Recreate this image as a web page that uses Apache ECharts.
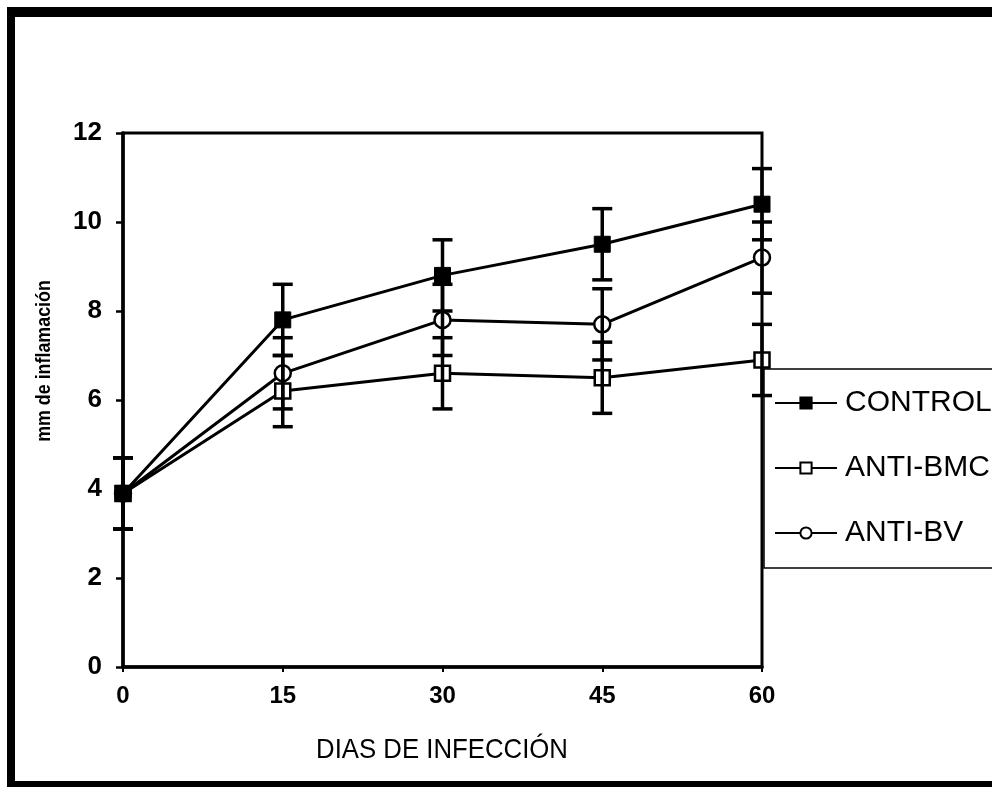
<!DOCTYPE html>
<html>
<head>
<meta charset="utf-8">
<script src="https://cdn.jsdelivr.net/npm/echarts@6/dist/echarts.min.js"></script>
<style>
  html, body { margin: 0; padding: 0; background: #fff; }
  #chart { width: 992px; height: 787px; }
</style>
</head>
<body>
<div id="chart"></div>
<script>
// Days after infection (x axis)
var days = [0, 15, 30, 45, 60];
var xTicks = [0, 15, 30, 45, 60];
var yTicks = [0, 2, 4, 6, 8, 10, 12];

// Mean inflammation (mm) per group
var controlMean = [3.9, 7.8, 8.8, 9.5, 10.4];
var antiBmcMean = [3.9, 6.2, 6.6, 6.5, 6.9];
var antiBvMean  = [3.9, 6.6, 7.8, 7.7, 9.2];

// Error (+/-) per group
var controlErr = [0.8, 0.8, 0.8, 0.8, 0.8];
var antiBmcErr = [0.8, 0.8, 0.8, 0.8, 0.8];
var antiBvErr  = [0.8, 0.8, 0.8, 0.8, 0.8];

var seriesNames = ['CONTROL', 'ANTI-BMC', 'ANTI-BV'];

var FONT = '"Liberation Sans", Arial, Helvetica, sans-serif';

function pairs(xs, ys) {
  return xs.map(function (x, i) { return [x, ys[i]]; });
}
function errRows(xs, ys, es) {
  return xs.map(function (x, i) { return [x, ys[i] - es[i], ys[i] + es[i]]; });
}

function errorBarSeries(name, rows) {
  return {
    name: name + ' error',
    type: 'custom',
    z: 5,
    silent: true,
    encode: { x: 0, y: [1, 2] },
    data: rows,
    renderItem: function (params, api) {
      var x = api.value(0);
      var top = api.coord([x, api.value(2)]);
      var bot = api.coord([x, api.value(1)]);
      var hw = 10;
      var st = { stroke: '#000', lineWidth: 3.5 };
      return {
        type: 'group',
        children: [
          { type: 'line', shape: { x1: top[0], y1: top[1], x2: bot[0], y2: bot[1] }, style: st },
          { type: 'line', shape: { x1: top[0] - hw, y1: top[1], x2: top[0] + hw, y2: top[1] }, style: st },
          { type: 'line', shape: { x1: bot[0] - hw, y1: bot[1], x2: bot[0] + hw, y2: bot[1] }, style: st }
        ]
      };
    }
  };
}

var chart = echarts.init(document.getElementById('chart'), null, { renderer: 'canvas' });

chart.setOption({
  animation: false,
  backgroundColor: '#fff',
  grid: {
    left: 123, right: 230, top: 133, bottom: 120,
    show: true, borderColor: '#000', borderWidth: 3, backgroundColor: 'transparent'
  },
  xAxis: {
    type: 'value',
    min: xTicks[0], max: xTicks[xTicks.length - 1], interval: 15,
    axisLine: { lineStyle: { color: '#000', width: 3.5 } },
    axisTick: { show: true, inside: false, length: 5, lineStyle: { color: '#000', width: 2 } },
    axisLabel: { color: '#000', fontFamily: FONT, fontWeight: 'bold', fontSize: 24, margin: 17 },
    splitLine: { show: false }
  },
  yAxis: {
    type: 'value',
    min: yTicks[0], max: yTicks[yTicks.length - 1], interval: 2,
    axisLine: { show: true, lineStyle: { color: '#000', width: 3.5 } },
    axisTick: { show: true, inside: false, length: 7, lineStyle: { color: '#000', width: 2.5 } },
    axisLabel: { color: '#000', fontFamily: FONT, fontWeight: 'bold', fontSize: 26, margin: 21 },
    splitLine: { show: false }
  },
  legend: {
    orient: 'vertical',
    left: 764, top: 369,
    data: seriesNames,
    itemWidth: 62, itemHeight: 14, itemGap: 33,
    padding: [18, 80, 19, 10],
    backgroundColor: '#fff',
    borderColor: '#000', borderWidth: 1.5, borderRadius: 0,
    selectedMode: false,
    textStyle: { color: '#000', fontFamily: FONT, fontSize: 30, lineHeight: 32, padding: [0, 0, 0, 3] }
  },
  graphic: [
    // outer frame
    { type: 'rect', shape: { x: 7, y: 7, width: 1000, height: 10 }, style: { fill: '#000' }, z: 100 },
    { type: 'rect', shape: { x: 7, y: 7, width: 8, height: 780 }, style: { fill: '#000' }, z: 100 },
    { type: 'rect', shape: { x: 7, y: 781, width: 1000, height: 7 }, style: { fill: '#000' }, z: 100 },
    // axis titles (horizontally condensed)
    {
      type: 'text', x: 44, y: 361, rotation: Math.PI / 2, scaleX: 0.85,
      style: { text: 'mm de inflamación', fill: '#000', font: 'bold 21px ' + FONT, align: 'center', verticalAlign: 'middle' }
    },
    {
      type: 'text', x: 442, y: 750, scaleX: 0.92,
      style: { text: 'DIAS DE INFECCIÓN', fill: '#000', font: '28px ' + FONT, align: 'center', verticalAlign: 'middle' }
    }
  ],
  series: [
    {
      name: 'ANTI-BV', type: 'line', z: 2,
      data: pairs(days, antiBvMean),
      symbol: 'circle', symbolSize: 16,
      lineStyle: { color: '#000', width: 3 },
      itemStyle: { color: '#fff', borderColor: '#000', borderWidth: 2.5 }
    },
    {
      name: 'ANTI-BMC', type: 'line', z: 3,
      data: pairs(days, antiBmcMean),
      symbol: 'rect', symbolSize: 15,
      lineStyle: { color: '#000', width: 3 },
      itemStyle: { color: '#fff', borderColor: '#000', borderWidth: 2.5 }
    },
    {
      name: 'CONTROL', type: 'line', z: 4,
      data: pairs(days, controlMean),
      symbol: 'rect', symbolSize: 16,
      lineStyle: { color: '#000', width: 3 },
      itemStyle: { color: '#000', borderColor: '#000', borderWidth: 1 }
    },
    errorBarSeries('CONTROL', errRows(days, controlMean, controlErr)),
    errorBarSeries('ANTI-BMC', errRows(days, antiBmcMean, antiBmcErr)),
    errorBarSeries('ANTI-BV', errRows(days, antiBvMean, antiBvErr))
  ]
});
</script>
</body>
</html>
